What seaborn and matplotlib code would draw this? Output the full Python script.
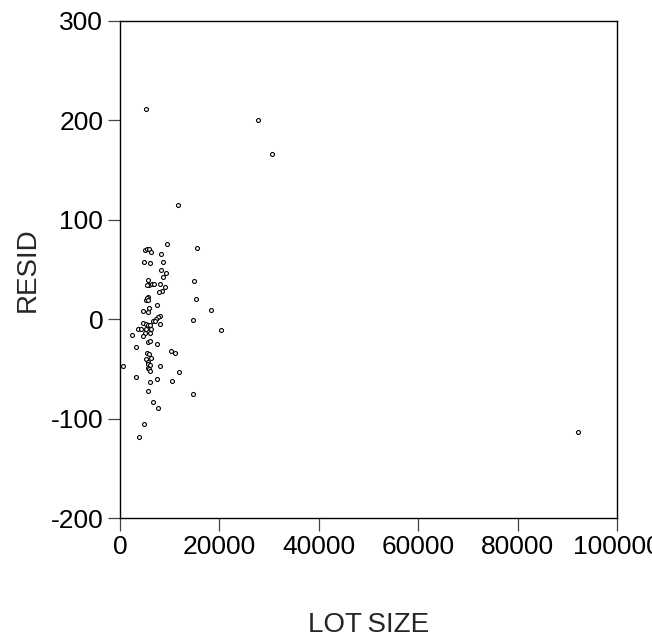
import matplotlib
matplotlib.use("Agg")
import matplotlib.pyplot as plt
import seaborn as sns
import pandas as pd

lot_size = [5170, 27770, 30580, 11600, 9520, 15400,
            5000, 5340, 5800, 6200, 8180, 4830, 5970, 8580, 8180, 9320, 8580,
            5570, 5770, 5430, 6380, 6780, 8110, 9000, 14800, 8380, 7840,
            5700, 5500, 5230, 5400, 5600, 15200, 7440, 4700, 5900, 5700, 18400,
            8050, 7640, 7240, 6570, 7040, 14600, 20300,
            4700, 5230, 5570, 6040, 7970,
            3690, 4290, 5230, 6240, 5100, 6100, 4560, 2480,
            3220, 5700, 6040, 7380, 10320, 11070,
            5500, 5900, 6300, 5170, 5700, 5700, 6100, 5570, 5900, 6100,
            540, 7970, 11800, 3150, 7440, 5970, 10460, 5630, 14690,
            6640, 7710, 4760, 3890, 92150]
resid = [211.5, 200.4, 165.9, 115, 75.7, 72,
         70, 70.5, 71, 68, 65.5, 57.8, 56.5, 57.6, 49.5, 46.5, 42,
         39.4, 34.8, 34.8, 35, 35, 35, 32.7, 38, 28.4, 27,
         22, 20.5, 19, 21, 19.5, 20.6, 14.3, 8.6, 11.3, 7.3, 9.2,
         3.5, 1.9, -0.1, -1.5, -1.5, -1, -11,
         -4.2, -4.5, -5.5, -6.2, -4.9,
         -9.6, -10.2, -10.2, -9.6, -14.2, -14.2, -17.2, -15.9,
         -27.7, -22.6, -21.6, -24.6, -31.7, -34.3,
         -34.3, -35.4, -38.7, -40, -42.8, -45, -46, -49, -50.4, -52.1,
         -46.8, -46.8, -52.8, -57.9, -60.5, -63.5, -61.9, -72.5, -75.2,
         -83.3, -89.3, -105, -118.5, -113.8]

x_ticks = [0, 20000, 40000, 60000, 80000, 100000]
y_ticks = [-200, -100, 0, 100, 200, 300]

df = pd.DataFrame({"LOT SIZE": lot_size, "RESID": resid})

sns.set_style("white")
plt.rcParams['font.family'] = ['Liberation Sans', 'DejaVu Sans']
plt.rcParams['axes.unicode_minus'] = False

fig = plt.figure(figsize=(6.52, 6.43), dpi=100)
ax = fig.add_axes([120/652, 1 - 518/643, 497/652, 497/643])

sns.scatterplot(data=df, x="LOT SIZE", y="RESID", ax=ax, marker="o",
                s=8, facecolor="white", edgecolor="black", linewidth=0.8)

ax.set_xlim(0, 100000)
ax.set_ylim(-200, 300)
ax.set_xticks(x_ticks)
ax.set_xticklabels([str(v) for v in x_ticks])
ax.set_yticks(y_ticks)
ax.set_yticklabels([str(v) for v in y_ticks])
ax.tick_params(direction="out", length=9, width=0.9, color="#444444",
               labelcolor="black", labelsize=19, pad=3, bottom=True, left=True)
for sp in ax.spines.values():
    sp.set_visible(True)
    sp.set_color("black")
    sp.set_linewidth(1.0)

ax.set_xlabel("LOT\u2009SIZE", fontsize=20)
ax.set_ylabel("RESID", fontsize=20)
ax.xaxis.set_label_coords(0.5, -0.19)
ax.yaxis.set_label_coords(-0.16, 0.5)

fig.savefig("out.png", dpi=100)
